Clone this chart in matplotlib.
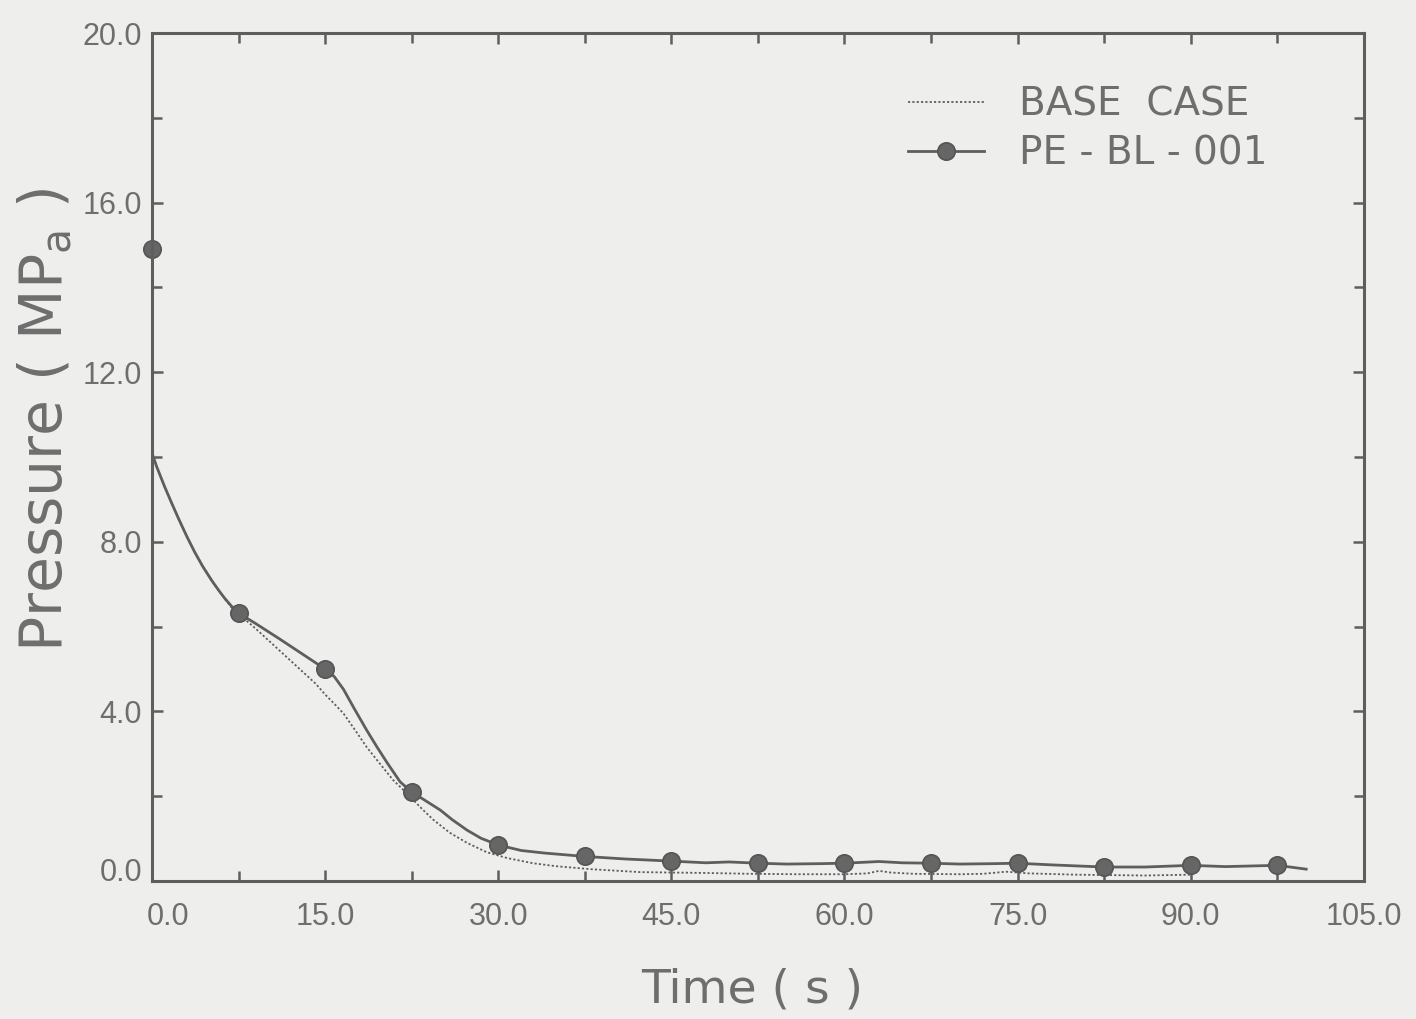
import matplotlib
matplotlib.use("Agg")
import matplotlib.pyplot as plt
import matplotlib.transforms as mtransforms
from matplotlib.lines import Line2D
from matplotlib.ticker import MultipleLocator

# --- data -------------------------------------------------------------
base_time = [0.0, 0.4, 1.1, 1.7, 2.3, 3.0, 3.7, 4.4, 5.2, 5.8, 6.3, 6.9, 7.5,
             9.0, 11.0, 13.0, 14.2, 15.0, 15.8, 16.6, 17.6, 18.6, 19.8, 20.9,
             21.7, 22.4, 23.4, 24.4, 25.8, 27.3, 29.0, 30.8, 33.0, 35.0, 38.0,
             42.3, 48.0, 52.0, 56.0, 60.0, 62.0, 63.0, 64.0, 66.0, 70.0, 72.0,
             74.0, 76.0, 80.0, 83.0, 86.0, 90.0]
base_pressure = [10.1, 9.78, 9.30, 8.92, 8.55, 8.14, 7.76, 7.42, 7.08, 6.85,
                 6.66, 6.45, 6.30, 5.95, 5.45, 4.95, 4.65, 4.40, 4.18, 3.95,
                 3.56, 3.16, 2.75, 2.38, 2.17, 1.98, 1.70, 1.44, 1.14, 0.90,
                 0.68, 0.54, 0.42, 0.35, 0.28, 0.21, 0.19, 0.17, 0.16, 0.16,
                 0.18, 0.24, 0.20, 0.17, 0.16, 0.17, 0.22, 0.18, 0.15, 0.14,
                 0.13, 0.15]

pe_time = [0.0, 0.4, 1.1, 1.7, 2.3, 3.0, 3.7, 4.4, 5.2, 5.8, 6.3, 6.9, 7.5,
           9.0, 11.0, 13.0, 15.0, 15.8, 16.6, 17.5, 18.6, 19.5, 20.4, 21.5,
           22.5, 23.5, 25.0, 26.0, 27.3, 28.5, 30.0, 32.0, 34.0, 37.5, 41.0,
           45.0, 48.0, 50.0, 52.5, 55.0, 58.0, 60.0, 63.0, 65.0, 67.5, 70.0,
           73.0, 75.0, 78.0, 82.5, 86.0, 90.0, 93.0, 97.5, 100.0]
pe_pressure = [10.1, 9.78, 9.30, 8.92, 8.55, 8.14, 7.76, 7.42, 7.08, 6.85,
               6.67, 6.48, 6.32, 6.07, 5.72, 5.36, 5.00, 4.82, 4.52, 4.08,
               3.56, 3.16, 2.78, 2.34, 2.10, 1.93, 1.67, 1.45, 1.20, 1.01,
               0.85, 0.72, 0.66, 0.58, 0.52, 0.47, 0.43, 0.45, 0.42, 0.40,
               0.41, 0.42, 0.46, 0.43, 0.42, 0.40, 0.41, 0.42, 0.38, 0.33,
               0.33, 0.37, 0.34, 0.37, 0.28]

pe_marker_time = [0.0, 7.5, 15.0, 22.5, 30.0, 37.5, 45.0, 52.5, 60.0, 67.5,
                  75.0, 82.5, 90.0, 97.5]
pe_marker_pressure = [14.9, 6.32, 5.00, 2.10, 0.85, 0.58, 0.47, 0.42, 0.42,
                      0.42, 0.42, 0.33, 0.37, 0.37]

x_ticks = [0.0, 15.0, 30.0, 45.0, 60.0, 75.0, 90.0, 105.0]
y_ticks = [0.0, 4.0, 8.0, 12.0, 16.0, 20.0]
series_labels = ["BASE  CASE", "PE - BL - 001"]

# --- style ------------------------------------------------------------
paper = "#eeeeec"
ink = "#5e5e5e"
text_col = "#6e6e6e"
label_font = ["DejaVu Sans"]
tick_font = ["Liberation Sans", "DejaVu Sans"]
plt.rcParams["mathtext.default"] = "regular"

fig = plt.figure(figsize=(14.16, 10.19), dpi=100, facecolor=paper)
ax = fig.add_axes([0.1073, 0.1354, 0.8559, 0.8322], facecolor=paper)

ax.plot(base_time, base_pressure, color=ink, lw=1.3, ls=(0, (1.2, 1.2)))
ax.plot(pe_time, pe_pressure, color=ink, lw=2.0, solid_joinstyle="round")
ax.plot(pe_marker_time, pe_marker_pressure, ls="none", marker="o",
        ms=12.5, mfc="#666666", mec="#555555", mew=1.2, clip_on=False)

ax.set_xlim(0, 105)
ax.set_ylim(0, 20)
ax.set_xticks(x_ticks)
ax.set_yticks(y_ticks)
ax.xaxis.set_minor_locator(MultipleLocator(7.5))
ax.yaxis.set_minor_locator(MultipleLocator(2.0))
ax.set_xticklabels([f"{v:.1f}" for v in x_ticks])
ax.set_yticklabels([f"{v:.1f}" for v in y_ticks])

for side in ax.spines.values():
    side.set_color(ink)
    side.set_linewidth(2.2)

ax.tick_params(which="both", direction="in", top=True, right=True,
               color=ink, width=1.8, labelcolor=text_col)
ax.tick_params(which="major", length=8)
ax.tick_params(which="minor", length=7)
ax.tick_params(axis="x", which="major", pad=15)
ax.tick_params(axis="y", which="major", pad=7)
for lab in ax.get_xticklabels() + ax.get_yticklabels():
    lab.set_fontfamily(tick_font)
    lab.set_fontsize(22)

# nudge the two labels that share the origin corner
xl0 = ax.get_xticklabels()[0]
xl0.set_transform(xl0.get_transform() +
                  mtransforms.ScaledTranslation(16 / 100, 0, fig.dpi_scale_trans))
yl0 = ax.get_yticklabels()[0]
yl0.set_transform(yl0.get_transform() +
                  mtransforms.ScaledTranslation(0, 12 / 100, fig.dpi_scale_trans))

fig.text(752 / 1416, 1 - 990 / 1019, "Time ( s )", ha="center", va="center",
         fontsize=34, color=text_col, family=label_font)
fig.text(45 / 1416, 1 - 420 / 1019, "Pressure ( MP$_a$ )", ha="center",
         va="center", rotation=90, fontsize=42, color=text_col,
         family=label_font)

handles = [
    Line2D([], [], color=ink, lw=1.3, ls=(0, (1.2, 1.2))),
    Line2D([], [], color=ink, lw=2.0, marker="o", ms=12.5, mfc="#666666",
           mec="#555555", mew=1.2),
]
ax.legend(handles, series_labels, loc="upper left",
          bbox_to_anchor=(908 / 1416, 1 - 86 / 1019),
          bbox_transform=fig.transFigure, frameon=False,
          prop={"family": label_font, "size": 28}, labelcolor=text_col,
          handlelength=1.95, handletextpad=0.9, labelspacing=0.28,
          borderpad=0, borderaxespad=0)

fig.savefig("out.png", dpi=100, facecolor=paper)
